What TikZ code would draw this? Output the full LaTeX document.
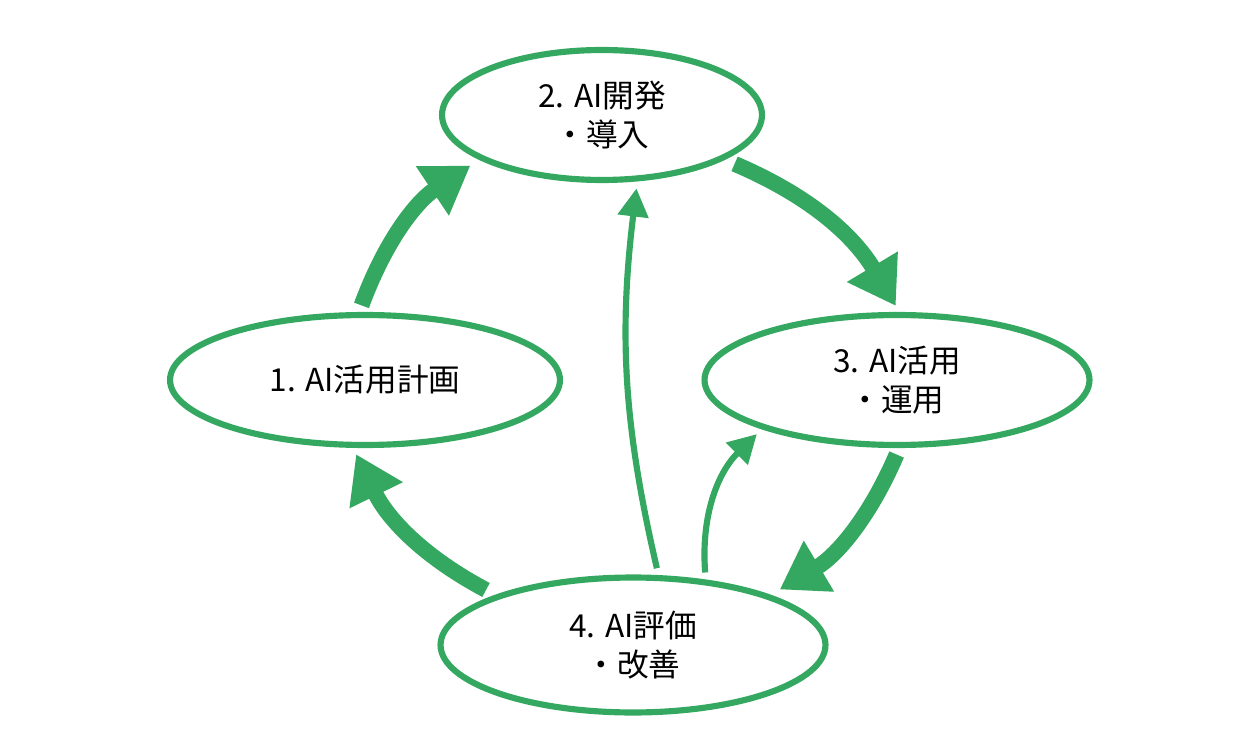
\documentclass[tikz,border=0pt]{standalone}
\usepackage{fontspec}
\setmainfont{Noto Sans CJK JP}
\usetikzlibrary{shapes.geometric,arrows.meta}
\definecolor{aigreen}{RGB}{52,168,96}
\tikzset{
  phase/.style = {draw=aigreen, line width=3.5pt, ellipse, fill=white, align=center, font=\fontsize{18}{22}\selectfont},
  bigarrow/.style = {draw=aigreen, line width=9pt, -{Triangle[length=26pt,width=32pt]}, bend left=18},
  smallarrow/.style = {draw=aigreen, line width=3.5pt, -{Triangle[length=16pt,width=17pt]}}
}
\begin{document}
\begin{tikzpicture}[x=0.02cm,y=-0.02cm]
        \useasboundingbox (0,0) rectangle (1260,739);
        %Phases
        \node [phase, minimum width=6.4cm, minimum height=2.6cm] (e2) at (602,115) {2. AI開発\\・導入};
        \node [phase, minimum width=7.8cm, minimum height=2.6cm] (e1) at (365,380) {1. AI活用計画};
        \node [phase, minimum width=7.7cm, minimum height=2.6cm] (e3) at (897,380) {3. AI活用\\・運用};
        \node [phase, minimum width=7.7cm, minimum height=2.7cm] (e4) at (633,645) {4. AI評価\\・改善};
        %Arrows
        \draw [bigarrow, shorten <=4pt, shorten >=6pt] (e1.95) to (e2.200);
        \draw [bigarrow, shorten <=6pt, shorten >=4pt] (e2.-20) to (e3.88);
        \draw [bigarrow, shorten <=4pt, shorten >=6pt] (e3.-88) to (e4.20);
        \draw [bigarrow, shorten <=6pt, shorten >=4pt] (e4.160) to (e1.-100);
        \draw [smallarrow, bend left=10, shorten <=4pt, shorten >=4pt] (e4.70) to (e2.-62);
        \draw [smallarrow, bend left=25, shorten <=4pt, shorten >=4pt] (e4.42) to (e3.200);
\end{tikzpicture}
\end{document}
